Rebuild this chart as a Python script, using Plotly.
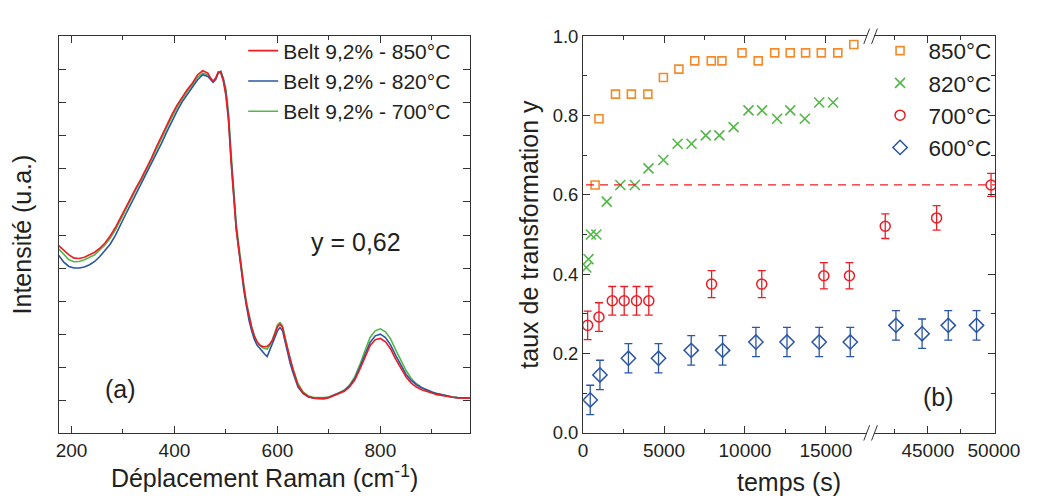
import plotly.graph_objects as go

# ---------------- data : panel (a) Raman spectra ----------------
raman_shift = [175, 185, 195, 205, 215, 225, 235, 245, 255, 265, 275, 285, 295, 305, 315,
               325, 335, 345, 355, 365, 375, 385, 395, 405, 415, 425, 435, 445, 455, 465,
               470, 475, 480, 485, 490, 495, 500, 505, 510, 515, 520, 525, 530, 535, 540,
               545, 550, 555, 560, 565, 570, 575, 580, 585, 590, 595, 600, 605, 610, 615,
               620, 625, 630,
               640, 650, 660, 670, 680, 690, 700, 710, 720, 730, 740, 750, 760, 770, 780,
               790, 800, 810, 820, 830, 840, 850, 860, 870, 880, 890, 900, 910, 920, 930,
               940, 950, 960, 970, 975]

intensity_850 = [0.468, 0.455, 0.440, 0.430, 0.429, 0.433, 0.440, 0.448, 0.460, 0.476, 0.497, 0.522, 0.552, 0.583, 0.613,
                 0.642, 0.670, 0.700, 0.732, 0.767, 0.800, 0.832, 0.864, 0.893, 0.918, 0.940, 0.960, 0.985, 0.997, 0.990,
                 0.975, 0.965, 0.975, 0.994, 0.990, 0.965, 0.920, 0.845, 0.720, 0.610, 0.516, 0.455, 0.390, 0.340, 0.290,
                 0.252, 0.220, 0.195, 0.178, 0.168, 0.163, 0.162, 0.163, 0.170, 0.181, 0.200, 0.222, 0.231, 0.220, 0.185,
                 0.152, 0.122, 0.095,
                 0.045, 0.022, 0.011, 0.006, 0.005, 0.004, 0.008, 0.014, 0.020, 0.027, 0.040, 0.060, 0.093, 0.132, 0.165,
                 0.183, 0.187, 0.177, 0.155, 0.124, 0.095, 0.070, 0.052, 0.040, 0.032, 0.026, 0.022, 0.017, 0.014, 0.010,
                 0.009, 0.007, 0.006, 0.006, 0.006]

intensity_820 = [0.439, 0.418, 0.405, 0.400, 0.400, 0.403, 0.410, 0.420, 0.435, 0.452, 0.472, 0.498, 0.528, 0.562, 0.593,
                 0.624, 0.652, 0.683, 0.713, 0.745, 0.778, 0.812, 0.845, 0.875, 0.903, 0.927, 0.948, 0.970, 0.985, 0.980,
                 0.970, 0.962, 0.970, 0.990, 0.995, 0.970, 0.930, 0.855, 0.730, 0.620, 0.520, 0.455, 0.385, 0.330, 0.283,
                 0.240, 0.210, 0.185, 0.168, 0.158, 0.148, 0.140, 0.132, 0.150, 0.170, 0.190, 0.210, 0.220, 0.210, 0.175,
                 0.140, 0.110, 0.085,
                 0.040, 0.020, 0.010, 0.007, 0.006, 0.006, 0.009, 0.015, 0.021, 0.029, 0.043, 0.065, 0.100, 0.140, 0.175,
                 0.195, 0.200, 0.190, 0.167, 0.135, 0.104, 0.078, 0.060, 0.047, 0.038, 0.031, 0.025, 0.020, 0.016, 0.012,
                 0.010, 0.008, 0.007, 0.007, 0.007]

intensity_700 = [0.458, 0.440, 0.425, 0.419, 0.420, 0.425, 0.432, 0.440, 0.455, 0.470, 0.490, 0.515, 0.545, 0.577, 0.607,
                 0.637, 0.665, 0.695, 0.727, 0.760, 0.793, 0.825, 0.857, 0.886, 0.912, 0.935, 0.955, 0.978, 0.990, 0.985,
                 0.975, 0.965, 0.972, 0.990, 0.995, 0.975, 0.940, 0.870, 0.750, 0.640, 0.535, 0.470, 0.400, 0.345, 0.295,
                 0.255, 0.222, 0.196, 0.178, 0.168, 0.160, 0.157, 0.155, 0.165, 0.182, 0.205, 0.228, 0.235, 0.225, 0.190,
                 0.155, 0.123, 0.097,
                 0.050, 0.025, 0.013, 0.009, 0.008, 0.008, 0.010, 0.016, 0.023, 0.031, 0.046, 0.070, 0.107, 0.150, 0.190,
                 0.210, 0.216, 0.207, 0.185, 0.152, 0.120, 0.090, 0.066, 0.050, 0.039, 0.031, 0.025, 0.020, 0.016, 0.012,
                 0.010, 0.008, 0.007, 0.007, 0.007]

spectra_names = ["Belt 9,2% - 850°C", "Belt 9,2% - 820°C", "Belt 9,2% - 700°C"]

# ---------------- data : panel (b) transformation rate ----------------
time_850 = [740, 980, 2000, 2980, 4000, 4960, 5920, 6900, 7920, 8580, 9820, 10820, 11840, 12800, 13750, 14720, 15740, 16730]
rate_850 = [0.625, 0.792, 0.854, 0.854, 0.854, 0.896, 0.917, 0.938, 0.938, 0.938, 0.958, 0.938, 0.958, 0.958, 0.958, 0.958, 0.958, 0.979]

time_820 = [200, 330, 480, 820, 1460, 2300, 3200, 4040, 4960, 5840, 6700, 7580, 8420, 9300, 10220, 11060, 11990, 12800, 13700, 14590, 15450]
rate_820 = [0.417, 0.438, 0.500, 0.500, 0.583, 0.625, 0.625, 0.667, 0.688, 0.729, 0.729, 0.750, 0.750, 0.771, 0.813, 0.813, 0.792, 0.813, 0.792, 0.833, 0.833]

time_700 = [280, 980, 1800, 2540, 3300, 4060, 7940, 11040, 14880, 16460, 41770, 45660, 49780]
rate_700 = [0.271, 0.292, 0.333, 0.333, 0.333, 0.333, 0.375, 0.375, 0.396, 0.396, 0.521, 0.542, 0.625]
err_700 = [0.036, 0.036, 0.036, 0.036, 0.036, 0.036, 0.034, 0.034, 0.033, 0.033, 0.031, 0.031, 0.029]

time_600 = [440, 1040, 2800, 4660, 6680, 8620, 10680, 12600, 14590, 16510, 42580, 44560, 46540, 48680]
rate_600 = [0.083, 0.146, 0.188, 0.188, 0.208, 0.208, 0.229, 0.229, 0.229, 0.229, 0.271, 0.250, 0.271, 0.271]
err_600 = [0.037] * 14

threshold_y = 0.625
threshold_label = "y = 0,62"

# ---------------- styling ----------------
W, H = 1043, 500
FONT = "Liberation Sans, Arial, Helvetica, sans-serif"
TXT = "#231f20"
AX = "#333333"
RED, BLUE, GREEN, ORANGE = "#ec1c24", "#2b55a5", "#52b848", "#f58a2a"
SEG1_END, SEG2_START = 17527, 40956


def px(x):
    return x / W


def py(y):
    return 1 - y / H


fig = go.Figure()

# spectra (green first so red is drawn on top)
for ys, name, col, rank in [(intensity_700, spectra_names[2], GREEN, 3),
                            (intensity_820, spectra_names[1], BLUE, 2),
                            (intensity_850, spectra_names[0], RED, 1)]:
    fig.add_trace(go.Scatter(x=raman_shift, y=ys, mode="lines", name=name,
                             line=dict(color=col, width=1.6), legendrank=rank,
                             xaxis="x", yaxis="y", legend="legend"))


def add_series(t, y, err, name, symbol, color, size, lw):
    first = True
    for ax, ya, keep in [("x2", "y2", lambda v: v <= SEG1_END),
                         ("x3", "y3", lambda v: v >= SEG2_START)]:
        idx = [i for i, v in enumerate(t) if keep(v)]
        if not idx:
            continue
        tr = dict(x=[t[i] for i in idx], y=[y[i] for i in idx], mode="markers", name=name,
                  marker=dict(symbol=symbol, size=size, color=color, line=dict(color=color, width=lw)),
                  xaxis=ax, yaxis=ya, legend="legend2", legendgroup=name, showlegend=first)
        if err is not None:
            tr["error_y"] = dict(type="data", array=[err[i] for i in idx], color=color,
                                 thickness=1.3, width=4)
        fig.add_trace(go.Scatter(**tr))
        first = False


add_series(time_850, rate_850, None, "850°C", "square-open", ORANGE, 8, 1.6)
add_series(time_820, rate_820, None, "820°C", "x-thin-open", GREEN, 10, 1.6)
add_series(time_700, rate_700, err_700, "700°C", "circle-open", RED, 10, 1.5)
add_series(time_600, rate_600, err_600, "600°C", "diamond-open", BLUE, 11, 1.5)

common_axis = dict(showline=True, linecolor=AX, linewidth=1, ticks="inside", tickcolor=AX,
                   ticklen=7, tickwidth=1, showgrid=False, zeroline=False)
xfont = dict(size=19, color=TXT, family=FONT)
yfont = dict(size=18.5, color=TXT, family=FONT)

ydom = [py(432), py(18)]

fig.update_layout(
    width=W, height=H, autosize=False,
    margin=dict(l=0, r=0, t=0, b=0),
    paper_bgcolor="white", plot_bgcolor="white",
    font=dict(family=FONT, color=TXT),
    xaxis=dict(**common_axis, domain=[px(47), px(471)], range=[175, 975], anchor="y",
               mirror="ticks", dtick=200, tick0=0, tickfont=xfont,
               minor=dict(dtick=100, ticks="inside", ticklen=4, tickcolor=AX),
               title=dict(text="Déplacement Raman (cm<sup>-1</sup>)",
                          font=dict(size=25, color=TXT, family=FONT), standoff=9)),
    yaxis=dict(**common_axis, domain=ydom, range=[-0.0986, 1.1014], anchor="x",
               mirror="ticks", dtick=0.1, tick0=0, showticklabels=False,
               title=dict(text="Intensité (u.a.)", font=dict(size=25, color=TXT, family=FONT),
                          standoff=18)),
    xaxis2=dict(**common_axis, domain=[px(587), px(879)], range=[0, SEG1_END], anchor="y2",
                mirror="ticks", dtick=5000, tick0=0, tickformat="d", tickfont=xfont,
                minor=dict(dtick=2500, ticks="inside", ticklen=4, tickcolor=AX)),
    xaxis3=dict(**common_axis, domain=[px(887), px(1011)], range=[SEG2_START, 50074], anchor="y3",
                mirror="ticks", dtick=5000, tick0=0, tickformat="d", tickfont=xfont,
                minor=dict(dtick=2500, ticks="inside", ticklen=4, tickcolor=AX)),
    yaxis2=dict(**common_axis, domain=ydom, range=[0, 1.0], anchor="x2",
                dtick=0.2, tick0=0, tickformat=".1f", tickfont=yfont,
                minor=dict(dtick=0.1, ticks="inside", ticklen=4, tickcolor=AX),
                title=dict(text="taux de transformation y", font=dict(size=25, color=TXT, family=FONT),
                           standoff=6)),
    yaxis3=dict(**common_axis, domain=ydom, range=[0, 1.0], anchor="x3", side="right",
                dtick=0.2, tick0=0, showticklabels=False,
                minor=dict(dtick=0.1, ticks="inside", ticklen=4, tickcolor=AX)),
    legend=dict(x=px(237), y=py(12), xanchor="left", yanchor="top",
                font=dict(size=21, color=TXT, family=FONT), bgcolor="rgba(0,0,0,0)",
                itemwidth=30, tracegroupgap=0),
    legend2=dict(x=px(884), y=py(11), xanchor="left", yanchor="top",
                 font=dict(size=22.5, color=TXT, family=FONT), bgcolor="rgba(0,0,0,0)",
                 itemwidth=47, tracegroupgap=0, traceorder="normal"),
    showlegend=True,
)

annotations = [
    dict(text=threshold_label, x=px(353), y=py(233), size=25),
    dict(text="(a)", x=px(111), y=py(386), size=25),
    dict(text="(b)", x=px(953), y=py(395), size=25),
    dict(text="temps (s)", x=px(799), y=py(483), size=25),
]
for a in annotations:
    fig.add_annotation(text=a["text"], x=a["x"], y=a["y"], xref="paper", yref="paper",
                       showarrow=False, xanchor="center", yanchor="middle",
                       font=dict(size=a["size"], color=TXT, family=FONT))

# dashed threshold line across the whole of panel (b)
fig.add_shape(type="line", xref="paper", yref="y2", x0=px(590), x1=px(1011),
              y0=threshold_y, y1=threshold_y,
              line=dict(color=RED, width=1.3, dash="8px,6px"))

# axis-break marks
for yc in (18, 432):
    for xc in (879, 887):
        fig.add_shape(type="line", xref="paper", yref="paper",
                      x0=px(xc - 3), y0=py(yc + 8), x1=px(xc + 3), y1=py(yc - 8),
                      line=dict(color=AX, width=1))

fig.write_html("out.html")
